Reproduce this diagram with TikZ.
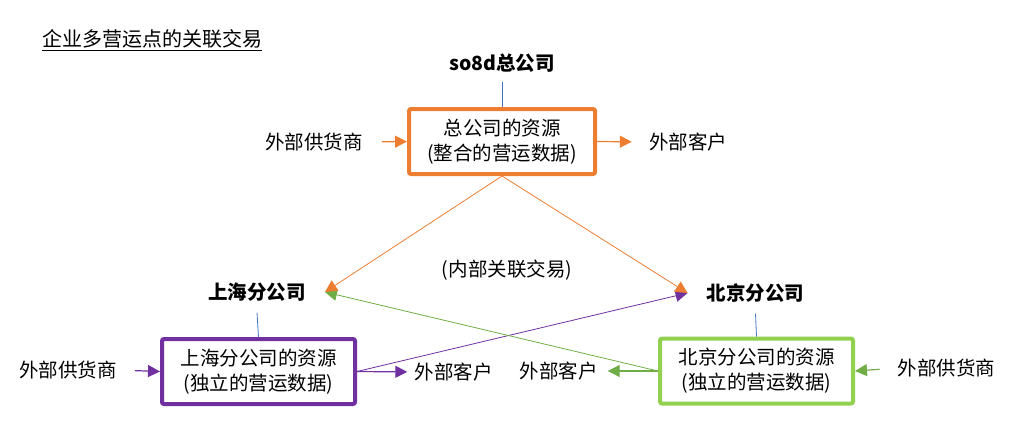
\documentclass[tikz,border=0pt]{standalone}
\usepackage{fontspec}
\setmainfont{Noto Sans CJK SC}
\usetikzlibrary{arrows.meta}
\definecolor{hqorange}{RGB}{237,125,49}
\definecolor{shpurple}{RGB}{112,48,160}
\definecolor{bjgreen}{RGB}{146,208,80}
\definecolor{bjarrow}{RGB}{112,173,71}
\definecolor{tieblue}{RGB}{68,114,196}
\begin{document}
\begin{tikzpicture}[>={Triangle[length=12pt,width=12pt]},x=1pt,y=-1pt,
	font=\fontsize{19.5}{25}\selectfont,
	resbox/.style={draw,line width=4pt,rounded corners=2pt,align=center,minimum width=193pt,minimum height=65pt,inner sep=0pt},
	lab/.style={inner sep=0pt},
	branch/.style={font=\fontsize{19.5}{25}\selectfont\bfseries,inner xsep=19pt,inner ysep=11pt},
	tie/.style={draw=tieblue,line width=0.8pt},
	flow/.style={->,line width=1.2pt},
	link/.style={->,line width=0.8pt}]
		\useasboundingbox (0,0) rectangle (1017,439);
		\node[lab,anchor=west,font=\fontsize{20}{25}\selectfont] (title) at (42,40) {\underline{企业多营运点的关联交易}};
		\node[branch,inner ysep=9pt] (hqlab) at (502,63) {so8d总公司};
		\node[resbox,draw=hqorange,minimum width=186pt] (hq) at (502,141.5) {总公司的资源\\(整合的营运数据)};
		\node[lab] (hqsup) at (314,142) {外部供货商};
		\node[lab] (hqcus) at (688,142) {外部客户};
		\node[branch] (shlab) at (257,292) {上海分公司};
		\node[branch] (bjlab) at (755.5,293) {北京分公司};
		\node[lab] (intra) at (507,270) {(内部关联交易)};
		\node[resbox,draw=shpurple] (sh) at (258.5,371.5) {上海分公司的资源\\(独立的营运数据)};
		\node[resbox,draw=bjgreen] (bj) at (756.5,371) {北京分公司的资源\\(独立的营运数据)};
		\node[lab] (shsup) at (68,370) {外部供货商};
		\node[lab] (shcus) at (453.5,372) {外部客户};
		\node[lab] (bjcus) at (558.5,371) {外部客户};
		\node[lab] (bjsup) at (946.5,368) {外部供货商};
		\draw[tie] (hqlab.south) -- (hq.north);
		\draw[tie] (shlab.south) -- (sh.north);
		\draw[tie] (bjlab.south) -- (bj.north);
		\draw[flow,hqorange,shorten <=19pt] (hqsup.east) -- (hq.west);
		\draw[flow,hqorange,shorten >=17pt] (hq.east) -- (hqcus.west);
		\draw[flow,shpurple,shorten <=18pt] (shsup.east) -- (sh.west);
		\draw[flow,shpurple,shorten >=7pt] (sh.east) -- (shcus.west);
		\draw[flow,bjarrow,shorten >=10pt] (bj.west) -- (bjcus.east);
		\draw[flow,bjarrow,shorten <=18pt] (bjsup.west) -- (bj.east);
		\draw[link,shpurple] (sh.east) -- (bjlab.west);
		\draw[link,bjarrow] (bj.west) -- (shlab.east);
		\draw[link,hqorange] (hq.south) -- (shlab.east);
		\draw[link,hqorange] (hq.south) -- (bjlab.west);
\end{tikzpicture}
\end{document}
